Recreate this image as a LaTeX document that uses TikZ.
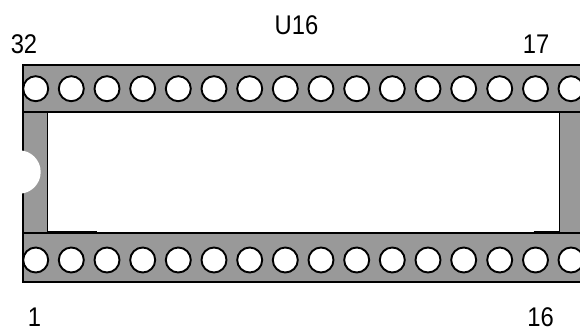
\documentclass[tikz,border=0pt]{standalone}
\usepackage{graphicx}
\usepackage{fontspec}
\setmainfont{Liberation Sans}
\newcommand{\lbltxt}[1]{\scalebox{.88}[1]{#1}}
\tikzset{
  lbl/.style={font=\fontsize{27}{30}\selectfont, text=black, inner sep=0pt, anchor=base},
  hole/.style={circle, draw=black, fill=white, line width=1.9pt, minimum size=25pt, inner sep=0pt},
  edge/.style={draw=black, line width=1.7pt}
}
\definecolor{body}{HTML}{999999}
\begin{document}
\begin{tikzpicture}[x=1pt,y=-1pt]
\useasboundingbox (0,0) rectangle (580,327);
\path[fill=body] (23,65) rectangle (580,282);
\fill[white] (47.5,112) rectangle (559.5,233);
\draw[edge] (580,65) -- (23,65) -- (23,282) -- (580,282);
\draw[edge] (23,112) -- (580,112);
\draw[edge] (23,233) -- (580,233);
\draw[edge] (47.5,112) -- (47.5,233);
\draw[edge] (559.5,112) -- (559.5,233);
\draw[black, line width=2.6pt] (47.5,232.6) -- (97,232.6);
\draw[black, line width=2.6pt] (533.5,232.6) -- (559.5,232.6);
\fill[white] (19,172) circle (21.7);
\foreach \n/\x in {1/35.7,2/71.3,3/107,4/142.7,5/178.3,6/214,7/249.7,8/285.3,9/321,10/356.7,11/392.3,12/428,13/463.7,14/499.7,15/535.5,16/571}{
  \node[hole] (t\n) at (\x,88.7) {};
  \node[hole] (b\n) at (\x,260) {};
}
\fill[white] (580,60) rectangle (590,290);
\node[lbl] (u) at (296.5,34) {\lbltxt{U16}};
\node[lbl] (p32) at (24,53) {\lbltxt{32}};
\node[lbl] (p17) at (536,53) {\lbltxt{17}};
\node[lbl] (p1) at (34.5,326) {\lbltxt{1}};
\node[lbl] (p16) at (540.5,326) {\lbltxt{16}};
\end{tikzpicture}
\end{document}
